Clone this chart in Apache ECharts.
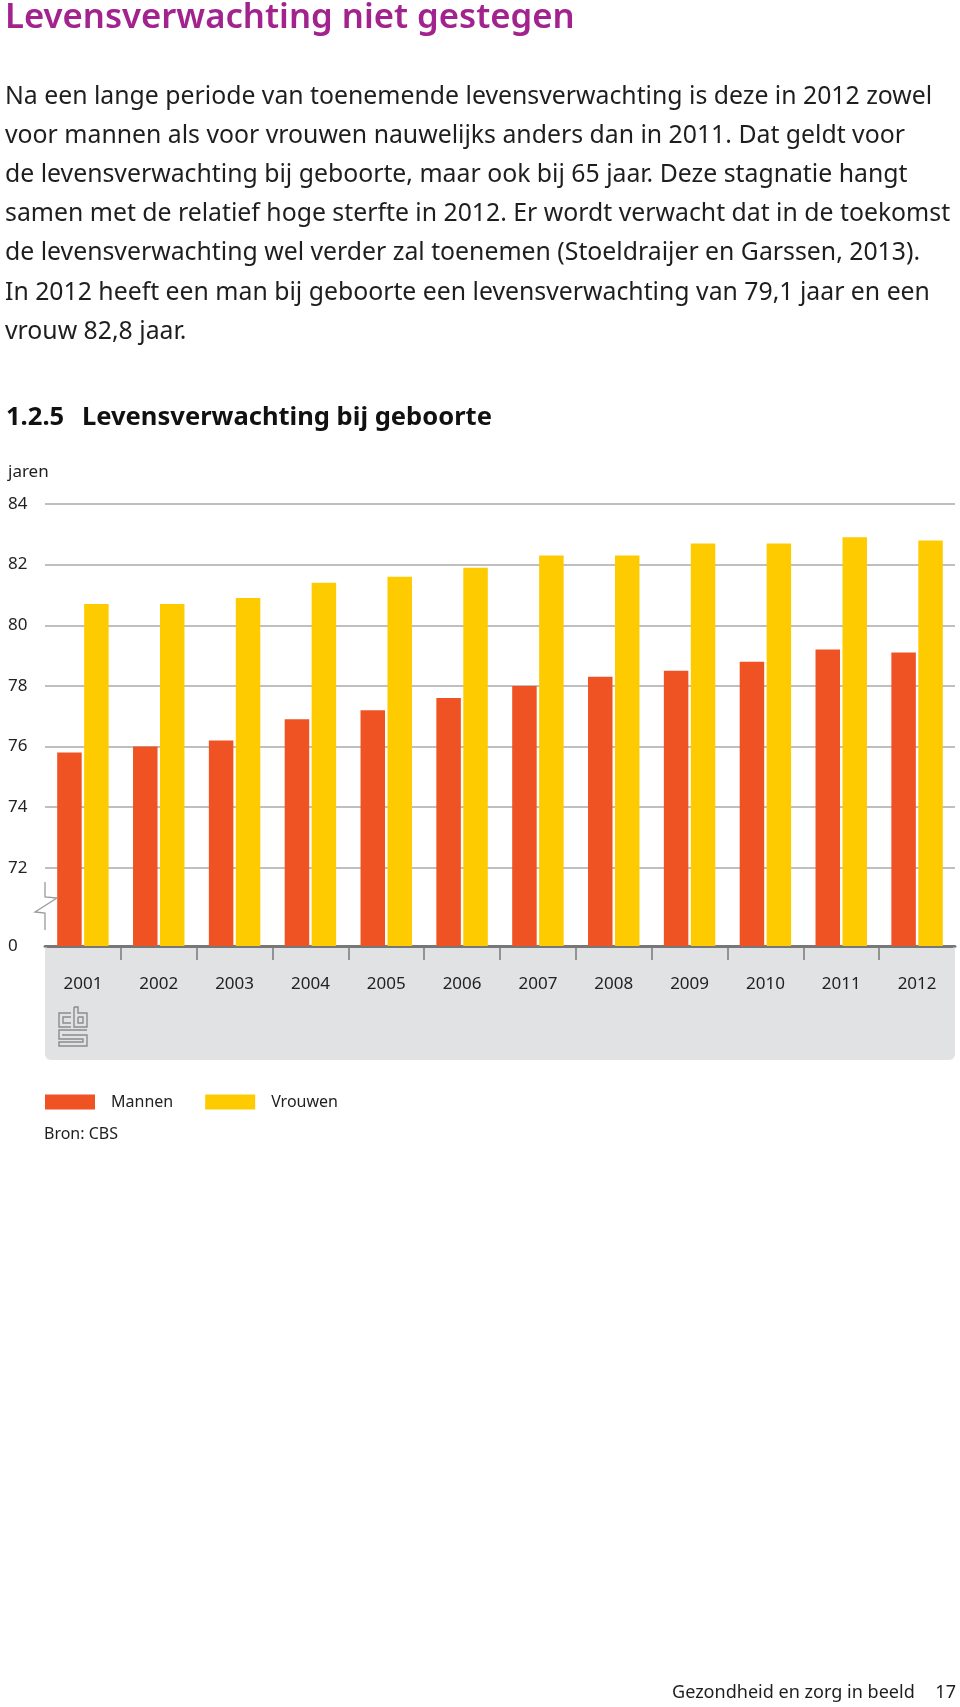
<!DOCTYPE html>
<html>
<head>
<meta charset="utf-8">
<script src="https://cdn.jsdelivr.net/npm/echarts@6/dist/echarts.min.js"></script>
<style>
html,body{margin:0;padding:0;background:#fff;}
#chart{width:960px;height:1707px;}
</style>
</head>
<body>
<div id="chart"></div>
<script>
// ---- data ----
const years = ['2001','2002','2003','2004','2005','2006','2007','2008','2009','2010','2011','2012'];
const mannen = [75.8, 76.0, 76.2, 76.9, 77.2, 77.6, 78.0, 78.3, 78.5, 78.8, 79.2, 79.1];
const vrouwen = [80.7, 80.7, 80.9, 81.4, 81.6, 81.9, 82.3, 82.3, 82.7, 82.7, 82.9, 82.8];
const seriesNames = ['Mannen', 'Vrouwen'];
const yTicks = [72, 74, 76, 78, 80, 82, 84];
const yBreakLabel = '0';

const pageTitle = 'Levensverwachting niet gestegen';
const bodyLines = [
  'Na een lange periode van toenemende levensverwachting is deze in 2012 zowel',
  'voor mannen als voor vrouwen nauwelijks anders dan in 2011. Dat geldt voor',
  'de levensverwachting bij geboorte, maar ook bij 65 jaar. Deze stagnatie hangt',
  'samen met de relatief hoge sterfte in 2012. Er wordt verwacht dat in de toekomst',
  'de levensverwachting wel verder zal toenemen (Stoeldraijer en Garssen, 2013).',
  'In 2012 heeft een man bij geboorte een levensverwachting van 79,1 jaar en een',
  'vrouw 82,8 jaar.'
];
const chartNumber = '1.2.5';
const chartTitle = 'Levensverwachting bij geboorte';
const unitLabel = 'jaren';
const sourceLabel = 'Bron: CBS';
const footerText = 'Gezondheid en zorg in beeld';
const pageNumber = '17';

// ---- layout ----
const FONT = "'Noto Sans', 'Open Sans', sans-serif";
const RED = '#ef5323', YELLOW = '#fecb00', BOX = '#e1e2e4';
const gridLeft = 45, gridRight = 5, gridTop = 504, gridBottomY = 946;
const axisFloor = 69.42;           // value shown at the broken-axis baseline
const yMax = yTicks[yTicks.length - 1];
const gridH = gridBottomY - gridTop;
const upperH = gridH * (yMax - yTicks[0]) / (yMax - axisFloor);

const mctx = document.createElement('canvas').getContext('2d');
function fit(text, weight, width) {
  mctx.font = weight + ' 100px ' + FONT;
  return 100 * width / mctx.measureText(text).width;
}
const bodySize = fit(bodyLines[0], 'normal', 928);
const titleSize = fit(pageTitle, '600', 570);
const chartTitleSize = fit(chartTitle, 'bold', 410);
const footerSize = fit(footerText, 'normal', 243);

const graphics = [];
function txt(text, x, y, size, opts) {
  opts = opts || {};
  graphics.push({
    type: 'text', z: 10,
    style: {
      text: text, x: x, y: y, fontSize: size, fontFamily: FONT,
      fontWeight: opts.weight || 'normal', fill: opts.fill || '#1e1e1e',
      align: opts.align || 'left', verticalAlign: 'middle'
    }
  });
}
txt(pageTitle, 5, 18, titleSize, {fill: '#a3238e', weight: '600'});
bodyLines.forEach((l, i) => txt(l, 5, 97 + i * 39.1, bodySize));
txt(chartNumber, 6, 418, chartTitleSize, {weight: 'bold', fill: '#111'});
txt(chartTitle, 82, 418, chartTitleSize, {weight: 'bold', fill: '#111'});
txt(unitLabel, 8, 472, 17);
txt(sourceLabel, 44, 1134, 16);
txt(footerText, 672, 1693, footerSize);
txt(pageNumber, 956, 1693, footerSize, {align: 'right'});

// grey box under the axis
graphics.push({
  type: 'rect', z: -1,
  shape: {x: gridLeft, y: gridBottomY, width: 960 - gridLeft - gridRight, height: 1060 - gridBottomY, r: [0, 0, 6, 6]},
  style: {fill: BOX}
});
// hide the axis ticks that fall on the outer edges of the box
graphics.push({type: 'rect', z: 20, shape: {x: 953, y: 947.6, width: 2, height: 15}, style: {fill: BOX}});
graphics.push({type: 'rect', z: 20, shape: {x: 955, y: 947.6, width: 3, height: 15}, style: {fill: '#ffffff'}});
graphics.push({type: 'rect', z: 20, shape: {x: 45, y: 947.6, width: 2, height: 15}, style: {fill: BOX}});
graphics.push({type: 'rect', z: 20, shape: {x: 42, y: 947.6, width: 3, height: 15}, style: {fill: '#ffffff'}});
// axis break symbol
graphics.push({
  type: 'polyline', z: 10,
  shape: {points: [[45, 882], [45, 897], [57, 898], [35, 912], [45, 913], [45, 930]]},
  style: {stroke: '#9a9a9a', lineWidth: 1.3, fill: null}
});
// CBS logo (decorative)
const logoStroke = {stroke: '#8c8c8c', lineWidth: 1.4, fill: null};
[
  [[71, 1013], [59, 1013], [59, 1027], [71, 1027]],
  [[71, 1017], [63, 1017], [63, 1023], [71, 1023]],
  [[74, 1007], [74, 1027], [87, 1027], [87, 1013], [78, 1013], [78, 1007], [74, 1007]],
  [[78, 1017], [83, 1017], [83, 1023], [78, 1023], [78, 1017]],
  [[87, 1030], [59, 1030], [59, 1039], [83, 1039], [83, 1042], [59, 1042], [59, 1046], [87, 1046], [87, 1035], [63, 1035], [63, 1034]]
].forEach(p => graphics.push({type: 'polyline', z: 10, shape: {points: p}, style: logoStroke}));

const chart = echarts.init(document.getElementById('chart'), null, {renderer: 'canvas'});
chart.setOption({
  animation: false,
  backgroundColor: '#ffffff',
  textStyle: {fontFamily: FONT},
  grid: [
    {left: gridLeft, right: gridRight, top: gridTop, height: gridH},
    {left: gridLeft, right: gridRight, top: gridTop, height: upperH}
  ],
  xAxis: [
    {
      type: 'category', gridIndex: 0, data: years,
      axisLine: {lineStyle: {color: '#777777', width: 3}},
      axisTick: {show: true, length: 14, interval: (i) => i > 0, lineStyle: {color: '#7a7a7a', width: 1.5}},
      axisLabel: {margin: 30, fontSize: 17, color: '#222', fontFamily: FONT}
    },
    {type: 'category', gridIndex: 1, data: years, show: false}
  ],
  yAxis: [
    {
      type: 'value', gridIndex: 0, min: axisFloor, max: yMax,
      splitLine: {show: false}, axisLine: {show: false}, axisTick: {show: false},
      axisLabel: {
        customValues: [axisFloor].concat(yTicks),
        formatter: (v) => v < yTicks[0] ? yBreakLabel : String(v),
        align: 'left', margin: 37, fontSize: 17, color: '#222', fontFamily: FONT
      }
    },
    {
      type: 'value', gridIndex: 1, min: yTicks[0], max: yMax, interval: 2,
      axisLabel: {show: false}, axisLine: {show: false}, axisTick: {show: false},
      splitLine: {show: true, lineStyle: {color: '#aaaaaa', width: 1.5}}
    }
  ],
  legend: {
    data: seriesNames, left: 45, top: 1094, padding: 0, icon: 'rect',
    itemWidth: 50, itemHeight: 15, itemGap: 32, selectedMode: false,
    textStyle: {fontSize: 16, color: '#222', fontFamily: FONT, padding: [0, 0, 0, 11]}
  },
  series: [
    {name: seriesNames[0], type: 'bar', xAxisIndex: 0, yAxisIndex: 0, data: mannen,
     barWidth: 24.5, barGap: '10%', itemStyle: {color: RED}},
    {name: seriesNames[1], type: 'bar', xAxisIndex: 0, yAxisIndex: 0, data: vrouwen,
     barWidth: 24.5, barGap: '10%', itemStyle: {color: YELLOW}}
  ],
  graphic: {elements: graphics}
});
</script>
</body>
</html>
